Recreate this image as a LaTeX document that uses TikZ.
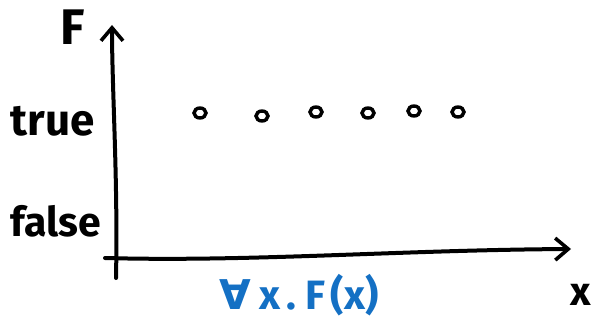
\documentclass[tikz,border=0pt]{standalone}
\usepackage{fontspec}
\setmainfont{Fira Sans}
\newfontfamily\symfont{DejaVu Sans}
\usetikzlibrary{arrows.meta,shapes.geometric}
\definecolor{penblue}{HTML}{1470C4}
\tikzset{
  axis/.style={line width=4pt, line cap=round, line join=round,
    -{Straight Barb[length=13pt,width=22pt,line width=3.6pt]}},
  dot/.style={draw, line width=3.4pt, ellipse, minimum width=12pt, minimum height=10pt, inner sep=0pt},
  lbl/.style={inner sep=0pt},
}
\begin{document}
\begin{tikzpicture}[x=1pt,y=-1pt]
\useasboundingbox (0,0) rectangle (593,321);
% axes
\coordinate (yb) at (116,278);
\coordinate (yt) at (112,25);
\coordinate (xl) at (105,258);
\coordinate (xr) at (571,249);
\draw[axis] (yb) .. controls (118,180) and (112,90) .. (yt);
\draw[axis] (xl) .. controls (250,262) and (400,250) .. (xr);
% labels
\node[lbl, font=\fontsize{50}{50}\selectfont\bfseries] (F) at (73,27) {F};
\node[lbl, font=\fontsize{44}{44}\selectfont\bfseries] (true) at (53,121) {true};
\node[lbl, font=\fontsize{41}{41}\selectfont\bfseries] (false) at (56,221) {false};
\node[lbl, font=\fontsize{40}{40}\selectfont\bfseries] (x) at (581,295) {x};
\node[lbl, text=penblue, font=\fontsize{41}{41}\selectfont\bfseries] (fx) at (299,295) {{\symfont ∀}\kern8pt x\kern6pt.\kern10pt F\kern5pt(x)};
% dots
\node[dot] (d1) at (200,113) {};
\node[dot] (d2) at (262,116) {};
\node[dot] (d3) at (316,112) {};
\node[dot] (d4) at (368,113) {};
\node[dot] (d5) at (414,111) {};
\node[dot] (d6) at (458,112) {};
\end{tikzpicture}
\end{document}
